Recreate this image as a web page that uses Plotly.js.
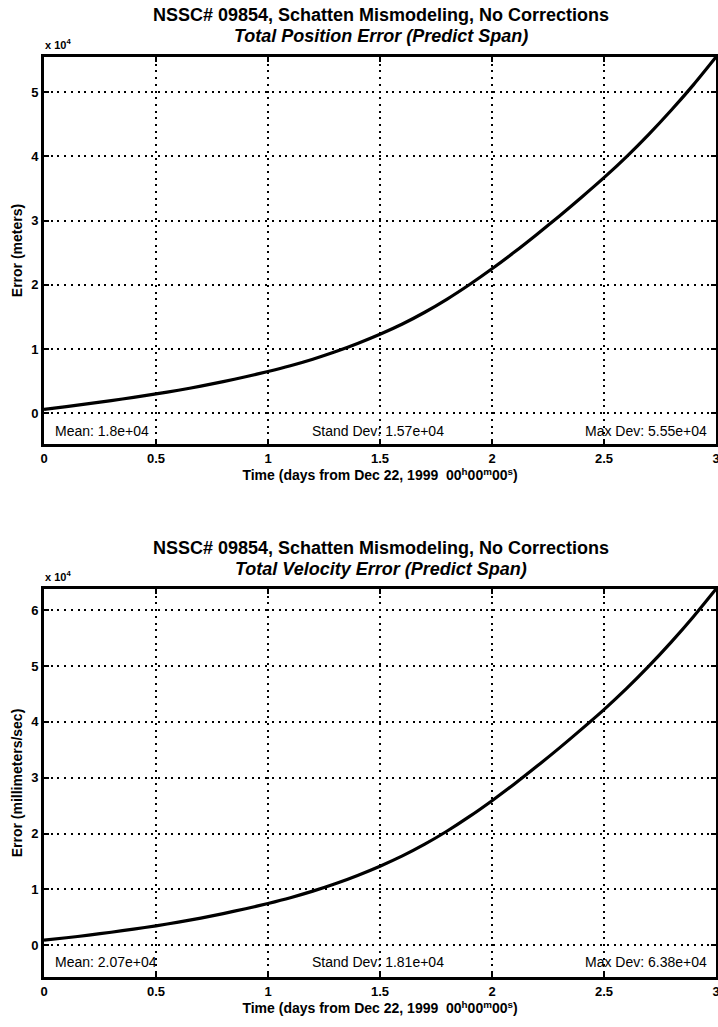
<!DOCTYPE html>
<html>
<head>
<meta charset="utf-8">
<script src="https://cdn.plot.ly/plotly-3.0.1.min.js"></script>
<style>
html,body{margin:0;padding:0;background:#fff;}
#chart{width:718px;height:1027px;}
</style>
</head>
<body>
<div id="chart"></div>
<script>
// Time in days from Dec 22, 1999 00h00m00s
const timeDays = [0,0.1,0.2,0.3,0.4,0.5,0.6,0.7,0.8,0.9,1.0,1.1,1.2,1.3,1.4,1.5,1.6,1.7,1.8,1.9,2.0,2.1,2.2,2.3,2.4,2.5,2.6,2.7,2.8,2.9,3.0];
// Total position error (meters)
const positionError = [600,1030,1485,1965,2470,3000,3580,4220,4920,5680,6500,7400,8420,9570,10870,12300,13900,15730,17780,20050,22500,25100,27850,30700,33650,36700,39950,43450,47200,51200,55500];
// Total velocity error (millimeters/sec)
const velocityError = [900,1330,1800,2320,2880,3470,4120,4850,5660,6530,7475,8510,9680,11000,12500,14150,15990,18090,20450,23060,25880,28870,32030,35300,38700,42200,45940,49970,54280,58880,63800];

const xTickVals = [0,0.5,1,1.5,2,2.5,3];
const xTickText = ["0","0.5","1","1.5","2","2.5","3"];
const posTickVals = [0,10000,20000,30000,40000,50000];
const posTickText = ["0","1","2","3","4","5"];
const velTickVals = [0,10000,20000,30000,40000,50000,60000];
const velTickText = ["0","1","2","3","4","5","6"];

const posStats = ["Mean: 1.8e+04","Stand Dev: 1.57e+04","Max Dev: 5.55e+04"];
const velStats = ["Mean: 2.07e+04","Stand Dev: 1.81e+04","Max Dev: 6.38e+04"];

const FONT = "Liberation Sans, Arial, Helvetica, sans-serif";
const H = 1027;
const py = p => 1 - p / H;

const traces = [
  {x: timeDays, y: positionError, xaxis: 'x', yaxis: 'y', mode: 'lines', line: {color: '#000', width: 3.2, shape: 'spline', smoothing: 0.8}, hoverinfo: 'skip'},
  {x: timeDays, y: velocityError, xaxis: 'x2', yaxis: 'y2', mode: 'lines', line: {color: '#000', width: 3.2, shape: 'spline', smoothing: 0.8}, hoverinfo: 'skip'}
];

function xAxis(anchor) {
  return {
    domain: [44/718, 716/718], anchor: anchor, range: [0, 3],
    tickvals: xTickVals, ticktext: xTickText, ticks: 'inside', ticklen: 5, tickwidth: 2, tickcolor: '#000',
    showline: true, linewidth: 3, linecolor: '#000', mirror: 'allticks',
    showgrid: true, gridcolor: '#000', gridwidth: 2, griddash: '2px,4.7px',
    zeroline: false, ticklabeloverflow: 'allow',
    tickfont: {family: FONT, size: 13, color: '#000', weight: 'bold'},
    title: {text: 'Time (days from Dec 22, 1999  00<sup>h</sup>00<sup>m</sup>00<sup>s</sup>)', font: {family: FONT, size: 14, color: '#000', weight: 'bold'}, standoff: 6}
  };
}
function yAxis(dom, anchor, range, tv, tt, title) {
  return {
    domain: dom, anchor: anchor, range: range,
    tickvals: tv, ticktext: tt, ticks: 'inside', ticklen: 5, tickwidth: 2, tickcolor: '#000',
    showline: true, linewidth: 3, linecolor: '#000', mirror: 'allticks',
    showgrid: true, gridcolor: '#000', gridwidth: 2, griddash: '2px,4.7px',
    zeroline: false,
    tickfont: {family: FONT, size: 13, color: '#000', weight: 'bold'},
    title: {text: title, font: {family: FONT, size: 14, color: '#000', weight: 'bold'}, standoff: 6}
  };
}

const annotations = [];
function titleAnn(text, yPix, italic) {
  annotations.push({xref: 'paper', yref: 'paper', x: 381/718, y: py(yPix), xanchor: 'center', yanchor: 'middle', showarrow: false,
    text: text, font: {family: FONT, size: 18, color: '#000', weight: 'bold', style: italic ? 'italic' : 'normal'}});
}
titleAnn('NSSC# 09854, Schatten Mismodeling, No Corrections', 15, false);
titleAnn('Total Position Error (Predict Span)', 36, true);
titleAnn('NSSC# 09854, Schatten Mismodeling, No Corrections', 548, false);
titleAnn('Total Velocity Error (Predict Span)', 569, true);

function expAnn(yPix) {
  annotations.push({xref: 'paper', yref: 'paper', x: 43/718, y: py(yPix), xanchor: 'left', yanchor: 'bottom', showarrow: false,
    text: 'x 10<sup>4</sup>', font: {family: FONT, size: 11, color: '#000', weight: 'bold'}});
}
expAnn(53);
expAnn(585);

function statAnns(stats, xa, ya, yVal) {
  const xs = [0.04, 1.49, 2.97];
  const anchors = ['left', 'center', 'right'];
  stats.forEach((s, i) => {
    annotations.push({xref: xa, yref: ya, x: xs[i], y: yVal, xanchor: anchors[i], yanchor: 'middle', showarrow: false,
      text: s, font: {family: FONT, size: 14, color: '#000'}});
  });
}
statAnns(posStats, 'x', 'y', -2700);
statAnns(velStats, 'x2', 'y2', -3000);

const layout = {
  width: 718, height: 1027,
  margin: {l: 0, r: 0, t: 0, b: 0},
  paper_bgcolor: '#fff', plot_bgcolor: '#fff',
  showlegend: false,
  xaxis: xAxis('y'),
  yaxis: yAxis([py(444), py(57)], 'x', [-4800, 55500], posTickVals, posTickText, 'Error (meters)'),
  xaxis2: xAxis('y2'),
  yaxis2: yAxis([py(977), py(589)], 'x2', [-5700, 63800], velTickVals, velTickText, 'Error (millimeters/sec)'),
  annotations: annotations
};

Plotly.newPlot('chart', traces, layout, {staticPlot: true, displayModeBar: false});
</script>
</body>
</html>
